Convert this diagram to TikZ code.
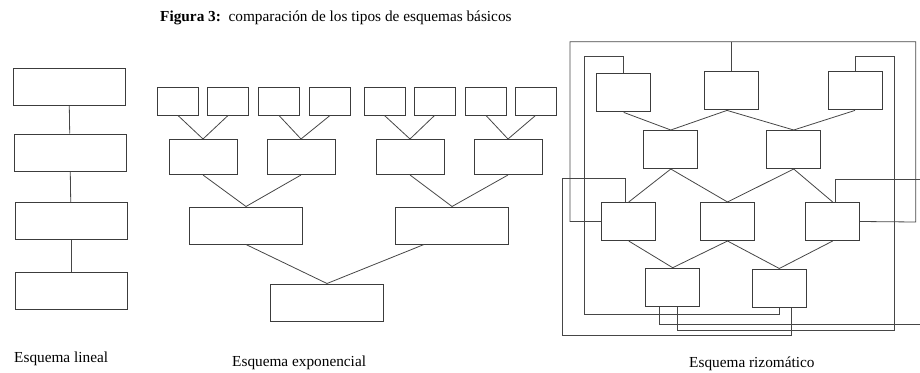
\documentclass[tikz,border=0pt]{standalone}
\usepackage{fontspec}
\setmainfont{Liberation Serif}
\usepackage{xcolor}
\usetikzlibrary{positioning}
\definecolor{boxgray}{RGB}{60,60,60}
\definecolor{linegray}{RGB}{70,70,70}

\begin{document}
\begin{tikzpicture}[x=1pt, y=-1pt,
        blk/.style={draw=boxgray, line width=1pt, inner sep=0pt},
        linbox/.style={blk, minimum width=112pt, minimum height=37pt},
        leafbox/.style={blk, minimum width=41pt, minimum height=28pt},
        midbox/.style={blk, minimum width=68pt, minimum height=35pt},
        bigbox/.style={blk, minimum width=113pt, minimum height=37pt},
        rzbox/.style={blk, minimum width=54pt, minimum height=38pt},
        link/.style={draw=linegray, line width=0.8pt},
        lbl/.style={anchor=west, inner sep=0pt, font=\fontsize{15.3}{17}\selectfont}]
        \useasboundingbox (0,0) rectangle (920,372);

        % title
        \node[anchor=west, inner sep=0pt, font=\fontsize{15.3}{17}\selectfont] (title) at (160,18)
            {\textbf{Figura 3:}\ \ comparación de los tipos de esquemas básicos};

        % esquema lineal
        \node[linbox] (lin1) at (69,87) {};
        \node[linbox] (lin2) at (70,152.5) {};
        \node[linbox] (lin3) at (71,221) {};
        \node[linbox] (lin4) at (71,291) {};
        \draw[link] (lin1) -- (lin2);
        \draw[link] (lin2) -- (lin3);
        \draw[link] (lin3) -- (lin4);
        \node[lbl] (lblLin) at (14,359) {Esquema lineal};

        % esquema exponencial
        \node[leafbox] (leaf1) at (178,101) {};
        \node[leafbox] (leaf2) at (228,101) {};
        \node[leafbox] (leaf3) at (279,101) {};
        \node[leafbox] (leaf4) at (330,101) {};
        \node[leafbox] (leaf5) at (384.5,101) {};
        \node[leafbox] (leaf6) at (434.5,101) {};
        \node[leafbox] (leaf7) at (486,101) {};
        \node[leafbox] (leaf8) at (535.5,101) {};
        \node[midbox] (mid1) at (203,157) {};
        \node[midbox] (mid2) at (301,157) {};
        \node[midbox] (mid3) at (410,157) {};
        \node[midbox] (mid4) at (508,157) {};
        \node[bigbox] (big1) at (246,225.5) {};
        \node[bigbox] (big2) at (452,225.5) {};
        \node[bigbox] (root) at (327,302.5) {};

        \draw[link] (leaf1.south) -- (mid1.north) -- (leaf2.south);
        \draw[link] (leaf3.south) -- (mid2.north) -- (leaf4.south);
        \draw[link] (leaf5.south) -- (mid3.north) -- (leaf6.south);
        \draw[link] (leaf7.south) -- (mid4.north) -- (leaf8.south);
        \draw[link] (mid1.south) -- (big1.north) -- (mid2.south);
        \draw[link] (mid3.south) -- (big2.north) -- (mid4.south);
        \draw[link] (big1.south) -- (root.north) -- ([xshift=-28pt]big2.south);
        \node[lbl] (lblExp) at (232,362.5) {Esquema exponencial};

        % esquema rizomatico
        \node[rzbox] (top1) at (623.7,92.9) {};
        \node[rzbox] (top2) at (731,90.9) {};
        \node[rzbox] (top3) at (855,90.9) {};
        \node[rzbox] (cen1) at (670.8,149.5) {};
        \node[rzbox] (cen2) at (793.7,149.5) {};
        \node[rzbox] (row1) at (628.7,221.5) {};
        \node[rzbox] (row2) at (727.5,221.5) {};
        \node[rzbox] (row3) at (832.7,221.5) {};
        \node[rzbox] (low1) at (672.7,287.2) {};
        \node[rzbox] (low2) at (779.3,288) {};

        \draw[link] (top1.south) -- (cen1.north) -- ([xshift=-4pt]top2.south) -- (cen2.north) -- (top3.south);
        \draw[link] (row1.north) -- (cen1.south) -- (row2.north) -- (cen2.south) -- (row3.north);
        \draw[link] (row1.south) -- (low1.north) -- (row2.south) -- (low2.north) -- (row3.south);

        % lazos exteriores
        \coordinate (cutA) at (920,179.3);
        \coordinate (cutB) at (920,324);
        \draw[link] (top2.north) -- (top2.north |- 0,41.7);
        \draw[link] (row1.west) -| (570,41.7) -| (915.7,222) -- (row3.east);
        \draw[link] (top1.north) |- (584.3,56) -- (584.3,314) -| (low2.south);
        \draw[link] (top3.north) |- (894,56) -- (894,330.7) -| ([xshift=4.6pt]low1.south);
        \draw[link] ([xshift=12.4pt]low2.south) |- (562.7,335.7) |- (625,178.3) -- ([xshift=-3.7pt]row1.north);
        \draw[link] ([xshift=3pt]row3.north) |- (cutA);
        \draw[link] ([xshift=-13.7pt]low1.south) |- (cutB);
        \node[lbl] (lblRiz) at (689,364) {Esquema rizomático};
\end{tikzpicture}
\end{document}
